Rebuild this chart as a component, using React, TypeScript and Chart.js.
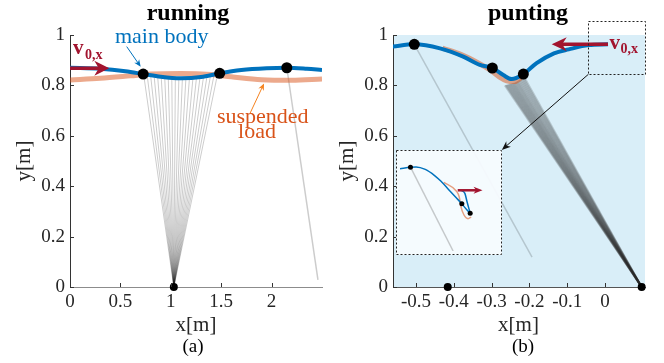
import React, { useEffect, useRef } from "react";
import { Chart, registerables } from "chart.js";

Chart.register(...registerables);

const FONT = "'Liberation Serif', 'Times New Roman', serif";
const BLUE = "#0072BD";
const LOAD = "rgba(217,83,25,0.5)";
const ORANGE_TXT = "#D95319";
const RED = "#A2142F";

// ---------------- shared ----------------
const yTicks = [0, 0.2, 0.4, 0.6, 0.8, 1];

// ---------------- (a) running ----------------
const runXTicks = [0, 0.5, 1, 1.5, 2];
const runBodyX = [0, 0.3, 0.55, 0.726, 0.9, 1.1, 1.3, 1.485, 1.7, 1.95, 2.151, 2.35, 2.5];
const runBodyY = [0.87, 0.866, 0.856, 0.845, 0.834, 0.828, 0.833, 0.848, 0.861, 0.868, 0.87, 0.866, 0.861];
const runLoadX = [0, 0.3, 0.6, 0.8, 1.1, 1.4, 1.6, 1.9, 2.2, 2.5];
const runLoadY = [0.821, 0.828, 0.838, 0.845, 0.847, 0.843, 0.834, 0.822, 0.82, 0.825];
const runFootX = 1.03;
const runLegTopX = [0.73, 0.765, 0.8, 0.835, 0.87, 0.905, 0.94, 0.975, 1.01, 1.045, 1.08, 1.115, 1.15, 1.185, 1.22, 1.255, 1.29, 1.325, 1.36, 1.395, 1.43, 1.465];
const runLegTopY = [0.845, 0.842, 0.839, 0.836, 0.834, 0.832, 0.83, 0.829, 0.828, 0.828, 0.828, 0.828, 0.828, 0.829, 0.83, 0.831, 0.833, 0.835, 0.838, 0.841, 0.844, 0.847];
const runTrailLegX = [2.151, 2.46];
const runTrailLegY = [0.87, 0.028];
const runDotX = [0.726, 1.485, 2.151];
const runDotY = [0.845, 0.848, 0.87];

// ---------------- (b) punting ----------------
const puntXTicks = [-0.5, -0.4, -0.3, -0.2, -0.1, 0];
const puntBodyX = [-0.564, -0.5045, -0.4365, -0.375, -0.331, -0.298, -0.269, -0.247, -0.216, -0.181, -0.135, -0.096, -0.0435, 0.008];
const puntBodyY = [0.954, 0.963, 0.947, 0.914, 0.881, 0.869, 0.841, 0.825, 0.845, 0.888, 0.927, 0.943, 0.96, 0.963];
const puntLoadX = [-0.43, -0.38, -0.34, -0.305, -0.28, -0.26, -0.24, -0.222];
const puntLoadY = [0.948, 0.922, 0.893, 0.862, 0.834, 0.818, 0.815, 0.83];
const puntFootX = 0.097;
const puntLegTopX = [-0.265, -0.2625, -0.26, -0.2575, -0.255, -0.2525, -0.25, -0.2475, -0.245, -0.2425, -0.24, -0.2375, -0.235, -0.2325, -0.23, -0.2275, -0.225, -0.2225, -0.22, -0.2175, -0.215];
const puntLegTopY = [0.8, 0.801, 0.802, 0.803, 0.804, 0.805, 0.806, 0.807, 0.808, 0.809, 0.81, 0.812, 0.814, 0.816, 0.818, 0.821, 0.824, 0.827, 0.83, 0.833, 0.836];
const puntTrailLegX = [-0.5045, -0.193];
const puntTrailLegY = [0.963, 0.119];
const puntDotX = [-0.5045, -0.298, -0.216];
const puntDotY = [0.963, 0.869, 0.845];
const puntGroundDotX = [-0.416, 0.097];
const puntGroundDotY = [0, 0];

// ---------------- inset (zoom of take-off) ----------------
const insetBodyU = [0, 0.107, 0.164, 0.258, 0.353, 0.416, 0.495, 0.574, 0.631, 0.684, 0.716];
const insetBodyV = [0.848, 0.864, 0.867, 0.841, 0.778, 0.721, 0.635, 0.549, 0.486, 0.422, 0.39];
const insetHookU = [0.621, 0.662, 0.684, 0.716];
const insetHookV = [0.626, 0.594, 0.508, 0.39];
const insetLoadU = [0.447, 0.574, 0.605, 0.621, 0.653, 0.694, 0.726];
const insetLoadV = [0.708, 0.619, 0.556, 0.46, 0.371, 0.333, 0.35];
const insetLegU = [0.107, 0.542];
const insetLegV = [0.864, 0];
const insetDotU = [0.107, 0.631, 0.716];
const insetDotV = [0.864, 0.486, 0.39];

const pts = (xs: number[], ys: number[]) => xs.map((x, i) => ({ x, y: ys[i] }));

function drawArrow(ctx: CanvasRenderingContext2D, x1: number, y1: number, x2: number, y2: number, color: string, lw: number, L: number, H: number) {
  const a = Math.atan2(y2 - y1, x2 - x1);
  const c = Math.cos(a), s = Math.sin(a);
  ctx.save();
  ctx.strokeStyle = color;
  ctx.fillStyle = color;
  ctx.lineWidth = lw;
  ctx.lineCap = "butt";
  ctx.beginPath();
  ctx.moveTo(x1, y1);
  ctx.lineTo(x2 - L * 0.6 * c, y2 - L * 0.6 * s);
  ctx.stroke();
  const bx = x2 - L * c, by = y2 - L * s;
  ctx.beginPath();
  ctx.moveTo(x2, y2);
  ctx.lineTo(bx - H * s, by + H * c);
  ctx.lineTo(x2 - L * 0.7 * c, y2 - L * 0.7 * s);
  ctx.lineTo(bx + H * s, by - H * c);
  ctx.closePath();
  ctx.fill();
  ctx.restore();
}

function text(ctx: CanvasRenderingContext2D, t: string, x: number, y: number, font: string, color: string, align: CanvasTextAlign = "left", base: CanvasTextBaseline = "alphabetic", rot = 0) {
  ctx.save();
  ctx.font = font;
  ctx.fillStyle = color;
  ctx.textAlign = align;
  ctx.textBaseline = base;
  ctx.translate(x, y);
  if (rot) ctx.rotate(rot);
  ctx.fillText(t, 0, 0);
  ctx.restore();
}

function ticksPlugin(axisColor: string) {
  return {
    id: "inwardTicks",
    afterDraw(chart: any) {
      const { ctx, chartArea, scales } = chart;
      ctx.save();
      ctx.strokeStyle = axisColor;
      ctx.lineWidth = 1;
      scales.x.ticks.forEach((t: any) => {
        const px = Math.round(scales.x.getPixelForValue(t.value)) + 0.5;
        ctx.beginPath();
        ctx.moveTo(px, chartArea.bottom);
        ctx.lineTo(px, chartArea.bottom - 4);
        ctx.stroke();
      });
      scales.y.ticks.forEach((t: any) => {
        const py = Math.round(scales.y.getPixelForValue(t.value)) + 0.5;
        ctx.beginPath();
        ctx.moveTo(chartArea.left, py);
        ctx.lineTo(chartArea.left + 4, py);
        ctx.stroke();
      });
      ctx.restore();
    },
  };
}

function line(data: any[], color: string, width: number, order: number, smooth = true) {
  return {
    data,
    showLine: true,
    borderColor: color,
    borderWidth: width,
    pointRadius: 0,
    cubicInterpolationMode: smooth ? "monotone" : "default",
    tension: 0,
    order,
  };
}

function dots(data: any[], r: number, order: number) {
  return {
    data,
    showLine: false,
    pointRadius: r,
    pointBackgroundColor: "#000",
    pointBorderWidth: 0,
    order,
    clip: false,
  };
}

function mainOptions(xmin: number, xmax: number, xt: number[], yAxisW: number, padRight: number, xBorder: string) {
  const tickFont = { family: FONT, size: 19 };
  return {
    animation: false,
    responsive: false,
    devicePixelRatio: 1,
    events: [],
    layout: { padding: { top: 35, right: padRight, left: 0, bottom: 0 } },
    plugins: { legend: { display: false }, tooltip: { enabled: false }, title: { display: false } },
    scales: {
      x: {
        type: "linear",
        min: xmin,
        max: xmax,
        grid: { display: false, drawTicks: false },
        border: { display: true, color: xBorder, width: 1 },
        ticks: { font: tickFont, color: "#262626", padding: 4, autoSkip: false, maxRotation: 0, callback: (v: any) => String(v) },
        afterBuildTicks: (s: any) => { s.ticks = xt.map((v) => ({ value: v })); },
        afterFit: (s: any) => { s.height = 76; },
      },
      y: {
        type: "linear",
        min: 0,
        max: 1,
        grid: { display: false, drawTicks: false },
        border: { display: true, color: "#333", width: 1 },
        ticks: { font: tickFont, color: "#262626", padding: 5, autoSkip: false, callback: (v: any) => String(v) },
        afterBuildTicks: (s: any) => { s.ticks = yTicks.map((v) => ({ value: v })); },
        afterFit: (s: any) => { s.width = yAxisW; },
      },
    },
  };
}

export default function App() {
  const aRef = useRef<HTMLCanvasElement>(null);
  const bRef = useRef<HTMLCanvasElement>(null);
  const iRef = useRef<HTMLCanvasElement>(null);

  useEffect(() => {
    const charts: Chart[] = [];

    // ---------- (a) running ----------
    const runDatasets: any[] = [
      dots(pts(runDotX, runDotY), 5.5, 0),
      dots([{ x: runFootX, y: 0 }], 4, 0),
      line(pts(runBodyX, runBodyY), BLUE, 4, 1),
      line(pts(runLoadX, runLoadY), LOAD, 5, 2),
      line(pts(runTrailLegX, runTrailLegY), "rgba(0,0,0,0.2)", 1.5, 3, false),
      ...runLegTopX.map((x, i) => line([{ x: runFootX, y: 0 }, { x, y: runLegTopY[i] }], "rgba(0,0,0,0.2)", 1, 4, false)),
    ];
    const runAnno = {
      id: "runAnno",
      afterDraw(chart: any) {
        const { ctx, scales } = chart;
        const X = (v: number) => scales.x.getPixelForValue(v);
        const Y = (v: number) => scales.y.getPixelForValue(v);
        text(ctx, "running", 188, 20, `bold 24px ${FONT}`, "#000", "center");
        text(ctx, "x[m]", 196, 331, `21px ${FONT}`, "#262626", "center");
        text(ctx, "(a)", 193, 352, `19px ${FONT}`, "#000", "center");
        text(ctx, "y[m]", 24, 161, `21px ${FONT}`, "#262626", "center", "middle", -Math.PI / 2);
        drawArrow(ctx, X(0), Y(0.868), X(0.39), Y(0.868), RED, 3.5, 15, 7.5);
        text(ctx, "v", X(0.03), Y(0.923), `bold 21px ${FONT}`, RED);
        text(ctx, "0,x", X(0.149), Y(0.905), `bold 14px ${FONT}`, RED);
        text(ctx, "main body", X(0.446), Y(0.967), `22px ${FONT}`, BLUE);
        drawArrow(ctx, X(0.5625), Y(0.954), X(0.701), Y(0.874), BLUE, 1, 7, 3);
        text(ctx, "suspended", X(1.458), Y(0.65), `22px ${FONT}`, ORANGE_TXT);
        text(ctx, "load", X(1.667), Y(0.59), `22px ${FONT}`, ORANGE_TXT);
        drawArrow(ctx, X(1.786), Y(0.689), X(1.925), Y(0.808), "#F5821F", 1, 7, 3);
      },
    };
    if (aRef.current) {
      charts.push(new Chart(aRef.current, {
        type: "scatter",
        data: { datasets: runDatasets },
        options: mainOptions(0, 2.5, runXTicks, 70, 10, "#8c8c8c") as any,
        plugins: [ticksPlugin("#333"), runAnno],
      } as any));
    }

    // ---------- (b) punting ----------
    const puntDatasets: any[] = [
      dots(pts(puntDotX, puntDotY), 5.5, 0),
      dots(pts(puntGroundDotX, puntGroundDotY), 4, 0),
      line(pts(puntBodyX, puntBodyY), BLUE, 4, 1),
      line(pts(puntLoadX, puntLoadY), LOAD, 5, 2),
      line(pts(puntTrailLegX, puntTrailLegY), "rgba(0,0,0,0.17)", 1.5, 3, false),
      ...puntLegTopX.map((x, i) => line([{ x: puntFootX, y: 0 }, { x, y: puntLegTopY[i] }], "rgba(40,40,40,0.2)", 2, 4, false)),
    ];
    const puntBg = {
      id: "puntBg",
      beforeDraw(chart: any) {
        const { ctx, chartArea: a } = chart;
        ctx.save();
        ctx.fillStyle = "#d9eef8";
        ctx.fillRect(a.left, a.top, a.right - a.left, a.bottom - a.top);
        ctx.restore();
      },
    };
    const puntAnno = {
      id: "puntAnno",
      afterDraw(chart: any) {
        const { ctx, scales } = chart;
        const X = (v: number) => scales.x.getPixelForValue(v);
        const Y = (v: number) => scales.y.getPixelForValue(v);
        text(ctx, "punting", 196, 20, `bold 24px ${FONT}`, "#000", "center");
        text(ctx, "x[m]", 186.5, 331, `21px ${FONT}`, "#262626", "center");
        text(ctx, "(b)", 191, 352, `19px ${FONT}`, "#000", "center");
        text(ctx, "y[m]", 15, 161, `21px ${FONT}`, "#262626", "center", "middle", -Math.PI / 2);
        drawArrow(ctx, X(0.0079), Y(0.963), X(-0.141), Y(0.963), RED, 3.5, 15, 7);
        text(ctx, "v", X(0.012), Y(0.943), `bold 21px ${FONT}`, RED);
        text(ctx, "0,x", X(0.041), Y(0.927), `bold 14px ${FONT}`, RED);
        // zoom box
        ctx.save();
        ctx.strokeStyle = "#222";
        ctx.lineWidth = 1;
        ctx.setLineDash([2, 2]);
        const bx1 = Math.round(X(-0.044)) + 0.5, bx2 = Math.round(X(0.108)) - 0.5;
        const by1 = Math.round(Y(1.056)) + 0.5, by2 = Math.round(Y(0.844)) + 0.5;
        ctx.strokeRect(bx1, by1, bx2 - bx1, by2 - by1);
        ctx.restore();
        drawArrow(ctx, X(-0.044), Y(0.844), X(-0.273), Y(0.544), "#111", 1, 9, 3.5);
      },
    };
    if (bRef.current) {
      charts.push(new Chart(bRef.current, {
        type: "scatter",
        data: { datasets: puntDatasets },
        options: mainOptions(-0.5608, 0.1058, puntXTicks, 61, 19, "#555") as any,
        plugins: [puntBg, ticksPlugin("#333"), puntAnno],
      } as any));
    }

    // ---------- inset ----------
    const insetDatasets: any[] = [
      dots(pts(insetDotU, insetDotV), 2.5, 0),
      line(pts(insetBodyU, insetBodyV), BLUE, 1.5, 1),
      line(pts(insetHookU, insetHookV), BLUE, 1.5, 1),
      line(pts(insetLoadU, insetLoadV), "rgba(217,83,25,0.55)", 1.5, 2),
      line(pts(insetLegU, insetLegV), "rgba(0,0,0,0.2)", 1.5, 3, false),
    ];
    const insetDeco = {
      id: "insetDeco",
      beforeDraw(chart: any) {
        const { ctx, width, height } = chart;
        ctx.save();
        ctx.fillStyle = "rgba(247,251,254,0.95)";
        ctx.fillRect(0, 0, width, height);
        ctx.restore();
      },
      afterDraw(chart: any) {
        const { ctx, width, height, scales } = chart;
        const X = (v: number) => scales.x.getPixelForValue(v);
        const Y = (v: number) => scales.y.getPixelForValue(v);
        drawArrow(ctx, X(0.589), Y(0.626), X(0.842), Y(0.626), RED, 2.5, 9, 3.5);
        ctx.save();
        ctx.strokeStyle = "#222";
        ctx.lineWidth = 1;
        ctx.setLineDash([2, 2]);
        ctx.strokeRect(0.5, 0.5, width - 1, height - 1);
        ctx.restore();
      },
    };
    if (iRef.current) {
      charts.push(new Chart(iRef.current, {
        type: "scatter",
        data: { datasets: insetDatasets },
        options: {
          animation: false,
          responsive: false,
          devicePixelRatio: 1,
          events: [],
          layout: { padding: 0 },
          plugins: { legend: { display: false }, tooltip: { enabled: false } },
          scales: {
            x: { type: "linear", min: 0, max: 1, display: false },
            y: { type: "linear", min: 0, max: 1, display: false },
          },
        },
        plugins: [insetDeco],
      } as any));
    }

    return () => charts.forEach((c) => c.destroy());
  }, []);

  return (
    <div style={{ position: "fixed", left: 0, top: 0, width: 664, height: 363, background: "#fff", overflow: "hidden" }}>
      <canvas ref={aRef} width={332} height={363} style={{ position: "absolute", left: 0, top: 0, width: 332, height: 363 }} />
      <canvas ref={bRef} width={332} height={363} style={{ position: "absolute", left: 332, top: 0, width: 332, height: 363 }} />
      <canvas ref={iRef} width={106} height={105} style={{ position: "absolute", left: 396, top: 150, width: 106, height: 105 }} />
    </div>
  );
}
